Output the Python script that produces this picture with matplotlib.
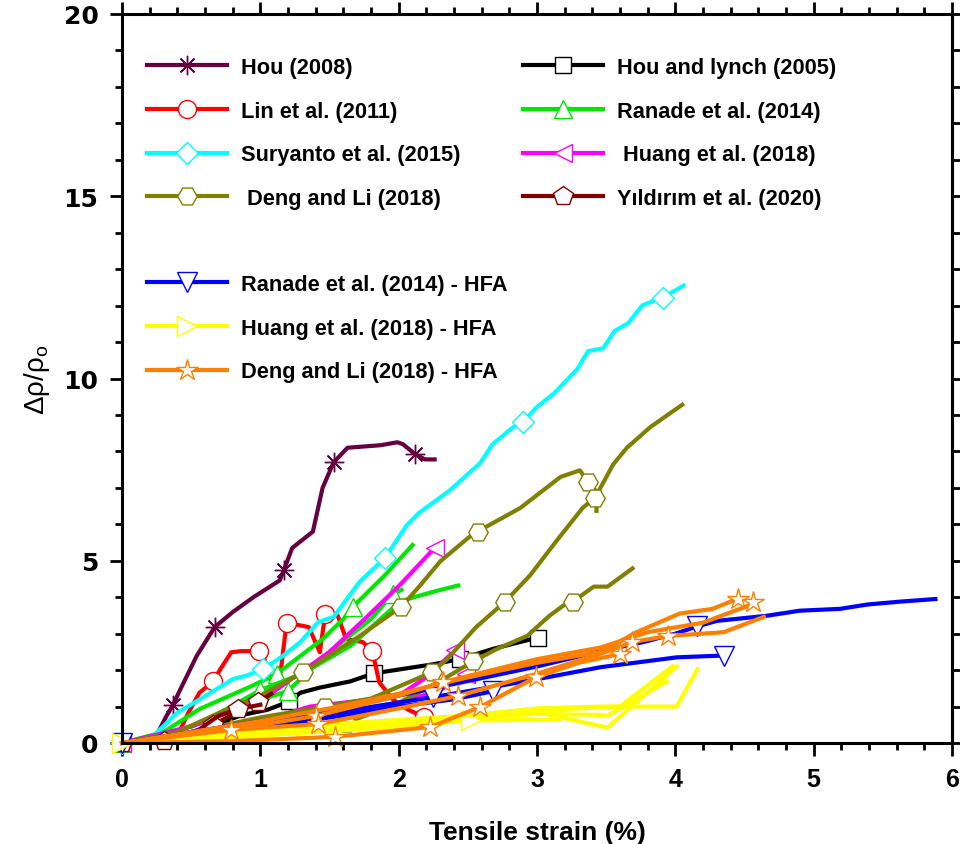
import matplotlib
matplotlib.use("Agg")
import matplotlib.pyplot as plt
from matplotlib.lines import Line2D
from matplotlib.ticker import MultipleLocator, NullFormatter

plt.rcParams['font.family'] = ['Liberation Sans', 'DejaVu Sans']
plt.rcParams['mathtext.fontset'] = 'custom'
plt.rcParams['mathtext.rm'] = 'Liberation Sans'
plt.rcParams['mathtext.it'] = 'Liberation Sans'

# ---------------- data: tensile strain (%) vs fractional resistivity change ----------------
# each specimen curve: (strain, dR/R0, indices of points carrying a marker)
hou_2008 = [
    ([0, 0.24, 0.32, 0.37, 0.41, 0.54, 0.67, 0.80, 0.95, 1.14, 1.17, 1.23, 1.38, 1.45, 1.53,
      1.63, 1.87, 1.99, 2.03, 2.12, 2.19, 2.26],
     [0, 0.14, 0.73, 1.05, 1.38, 2.39, 3.18, 3.59, 4.0, 4.46, 4.74, 5.35, 5.8, 7.0, 7.7,
      8.1, 8.17, 8.25, 8.2, 7.92, 7.78, 7.78],
     [0, 3, 6, 10, 14, 19]),
]
hou_lynch_2005 = [
    ([0, 0.3, 0.6, 0.87, 1.05, 1.21, 1.29, 1.43, 1.65, 1.82, 2.25, 2.44, 2.68, 2.96, 3.01],
     [0, 0.12, 0.4, 0.77, 0.91, 1.14, 1.38, 1.52, 1.69, 1.91, 2.16, 2.30, 2.58, 2.85, 2.88],
     [0, 5, 9, 11, 14]),
]
lin_2011 = [
    ([0, 0.25, 0.42, 0.48, 0.56, 0.66, 0.71, 0.79, 0.86, 0.99, 1.03, 1.09, 1.14, 1.19, 1.35,
      1.43, 1.47, 1.56, 1.62, 1.74, 1.81, 1.86, 1.96, 2.07, 2.18],
     [0, 0.1, 0.35, 0.83, 1.38, 1.69, 2.02, 2.49, 2.52, 2.52, 2.30, 1.55, 1.74, 3.30, 3.18,
      2.49, 3.55, 3.49, 2.85, 2.77, 2.52, 1.66, 1.19, 0.91, 0.72],
     [0, 5, 9, 13, 16, 20, 24]),
]
ranade_2014 = [
    ([0, 0.3, 0.56, 0.93, 1.12, 1.45, 1.6, 1.67, 1.9, 2.10],
     [0, 0.3, 0.93, 1.55, 1.9, 2.85, 3.4, 3.74, 4.6, 5.43],
     [0, 4, 7]),
    ([0, 0.3, 0.6, 1.0, 1.3, 1.65, 2.01, 2.13, 2.28, 2.43],
     [0, 0.2, 0.6, 1.45, 1.9, 2.66, 3.88, 4.02, 4.18, 4.32],
     [3]),
    ([0, 0.5, 0.9, 1.2, 1.5, 1.8, 1.96, 2.02],
     [0, 0.45, 1.05, 1.43, 2.5, 3.4, 4.1, 4.2],
     [3, 6]),
]
suryanto_2015 = [
    ([0, 0.22, 0.40, 0.56, 0.80, 0.90, 1.02, 1.16, 1.29, 1.42, 1.53, 1.72, 1.90, 2.06, 2.15,
      2.37, 2.59, 2.68, 2.83, 2.90, 3.0, 3.12, 3.29, 3.37, 3.48, 3.56, 3.66, 3.76, 3.84,
      3.91, 4.06],
     [0, 0.17, 0.83, 1.19, 1.75, 1.85, 2.02, 2.38, 2.77, 3.32, 3.46, 4.43, 5.07, 5.98, 6.32,
      6.93, 7.68, 8.2, 8.67, 8.81, 9.22, 9.58, 10.25, 10.75, 10.83, 11.3, 11.52, 12.0,
      12.13, 12.22, 12.55],
     [0, 6, 12, 19, 29]),
]
huang_2018 = [
    ([0, 0.5, 1.02, 1.5, 1.74, 2.0, 2.26],
     [0, 0.45, 1.2, 2.5, 3.35, 4.3, 5.35],
     [0, 6]),
    ([0, 0.6, 1.0, 1.36, 1.7, 2.0, 2.2, 2.41],
     [0, 0.3, 0.6, 1.0, 1.15, 1.3, 1.8, 2.55],
     [7]),
    ([0, 0.8, 1.5, 2.0, 2.3, 2.49],
     [0, 0.3, 0.75, 1.1, 1.45, 1.9],
     [5]),
]
deng_li_2018 = [
    ([0, 0.4, 0.75, 1.0, 1.31, 1.72, 2.02, 2.15, 2.30, 2.50, 2.57, 2.88, 3.17, 3.31, 3.37,
      3.43, 3.43],
     [0, 0.3, 0.91, 1.3, 1.94, 2.94, 3.74, 4.3, 4.98, 5.62, 5.8, 6.45, 7.3, 7.48, 7.15,
      6.9, 6.37],
     [0, 4, 6, 10, 14]),
    ([0, 0.5, 1.0, 1.47, 1.8, 2.24, 2.35, 2.56, 2.77, 2.95, 3.14, 3.33, 3.42, 3.55, 3.65,
      3.82, 4.05],
     [0, 0.3, 0.7, 1.0, 1.22, 1.94, 2.3, 3.18, 3.88, 4.6, 5.54, 6.45, 6.73, 7.64, 8.1,
      8.67, 9.28],
     [3, 5, 8, 12]),
    ([0, 0.6, 1.0, 1.3, 1.62, 2.0, 2.3, 2.54, 2.71, 2.93, 3.09, 3.19, 3.26, 3.41, 3.51, 3.69],
     [0, 0.15, 0.3, 0.42, 0.55, 1.1, 1.7, 2.24, 2.58, 2.94, 3.49, 3.77, 3.88, 4.29, 4.29, 4.79],
     [4, 7, 12]),
]
yildirim_2020 = [
    ([0, 0.3, 0.5, 0.66, 0.8, 0.98, 1.08],
     [0, 0.05, 0.25, 0.5, 0.78, 1.12, 1.35],
     [0, 1, 3, 5]),
    ([0, 0.35, 0.55, 0.7, 0.84, 1.0],
     [0, 0.05, 0.35, 0.75, 0.93, 1.05],
     [4]),
]
ranade_2014_hfa = [
    ([0, 0.5, 1.0, 1.65, 2.0, 2.5, 3.0, 3.46, 3.77, 4.0, 4.16, 4.30, 4.66, 4.90, 5.19, 5.39,
      5.63, 5.88],
     [0, 0.3, 0.6, 1.0, 1.3, 1.7, 2.1, 2.52, 2.77, 3.0, 3.2, 3.35, 3.49, 3.63, 3.68, 3.8,
      3.88, 3.95],
     [0, 10]),
    ([0, 0.5, 1.0, 1.65, 2.25, 2.7, 3.0, 3.46, 4.01, 4.35],
     [0, 0.25, 0.5, 0.9, 1.26, 1.55, 1.75, 2.08, 2.35, 2.40],
     [4, 9]),
    ([0, 0.8, 1.5, 2.0, 2.4, 2.68],
     [0, 0.3, 0.7, 1.0, 1.2, 1.42],
     [5]),
]
huang_2018_hfa = [
    ([0, 0.5, 1.0, 1.65, 2.5, 3.0, 3.5, 4.01, 4.16],
     [0, 0.15, 0.35, 0.55, 0.75, 0.95, 1.0, 1.0, 2.02],
     [0]),
    ([0, 0.5, 1.0, 1.65, 2.5, 3.0, 3.51, 4.01],
     [0, 0.1, 0.3, 0.5, 0.7, 0.85, 0.42, 2.1],
     []),
    ([0, 1.0, 2.0, 3.0, 3.46, 3.51, 3.94],
     [0, 0.25, 0.55, 0.8, 0.77, 0.75, 1.69],
     []),
    ([0, 1.0, 2.0, 2.52, 3.16],
     [0, 0.2, 0.45, 0.62, 0.64],
     [3]),
    ([0, 1.0, 2.0, 3.0, 3.6, 3.98],
     [0, 0.3, 0.6, 0.9, 1.0, 2.1],
     []),
]
deng_li_2018_hfa = [
    ([0, 0.5, 1.0, 1.5, 2.0, 2.5, 3.0, 3.46, 3.72, 4.03, 4.27, 4.45],
     [0, 0.3, 0.6, 0.95, 1.35, 1.8, 2.2, 2.5, 3.04, 3.55, 3.68, 3.96],
     [11]),
    ([0, 0.5, 1.0, 1.4, 2.0, 2.32, 3.0, 3.46, 3.80, 4.2, 4.53, 4.56],
     [0, 0.25, 0.5, 0.74, 1.3, 1.67, 2.3, 2.62, 3.04, 3.3, 3.77, 3.88],
     [3, 5, 11]),
    ([0, 0.79, 1.42, 2.0, 2.43, 3.0, 3.46, 3.69, 3.95, 4.16, 4.35, 4.64],
     [0, 0.36, 0.52, 0.95, 1.29, 1.9, 2.45, 2.77, 2.94, 2.99, 3.04, 3.46],
     [1, 2, 4, 7, 8]),
    ([0, 0.79, 1.54, 2.23, 2.59, 2.99, 3.3, 3.60],
     [0, 0.05, 0.17, 0.44, 0.99, 1.80, 2.2, 2.44],
     [2, 3, 4, 5, 7]),
]

labels = ["Hou (2008)", "Hou and lynch (2005)", "Lin et al. (2011)", "Ranade et al. (2014)",
          "Suryanto et al. (2015)", " Huang et al. (2018)", " Deng and Li (2018)",
          "Yıldırım et al. (2020)", "Ranade et al. (2014) - HFA", "Huang et al. (2018) - HFA",
          "Deng and Li (2018) - HFA"]
curves = [hou_2008, hou_lynch_2005, lin_2011, ranade_2014, suryanto_2015, huang_2018,
          deng_li_2018, yildirim_2020, ranade_2014_hfa, huang_2018_hfa, deng_li_2018_hfa]

# ---------------- styles ----------------
colors = ['#660040', '#000000', '#FF0000', '#00E600', '#00FFFF', '#FF00FF', '#808000',
          '#800000', '#0000FF', '#FFFF00', '#FF8000']
markers = [(8, 2, 0), 's', 'o', '^', 'D', '<', 'H', 'p', 'v', '>', '*']
msizes = [14, 11, 13, 13, 11, 13, 14, 15, 14, 14, 16]
LW = 3.0

fig = plt.figure(figsize=(9.6, 8.45), dpi=100)
ax = fig.add_axes([122 / 960, 101 / 845, 830 / 960, 729 / 845])

handles = []
for lab, col, mk, ms, group in zip(labels, colors, markers, msizes, curves):
    for xs, ys, mks in group:
        ax.plot(xs, ys, color=col, lw=LW, marker=mk, ms=ms, markevery=mks,
                mfc='white', mec=col, mew=1.0, clip_on=False, solid_joinstyle='round')
    handles.append(Line2D([], [], color=col, lw=LW, marker=mk, ms=ms, mfc='white',
                          mec=col, mew=1.0))

ax.set_xlim(0, 6)
ax.set_ylim(0, 20)

for s in ax.spines.values():
    s.set_linewidth(2.2)

ax.xaxis.set_major_locator(MultipleLocator(1))
ax.xaxis.set_minor_locator(MultipleLocator(0.2))
ax.yaxis.set_major_locator(MultipleLocator(5))
ax.yaxis.set_minor_locator(MultipleLocator(1))
ax.tick_params(axis='x', which='both', direction='out', top=True, bottom=True, width=2.0)
ax.tick_params(axis='y', which='both', direction='out', left=True, right=False, width=2.0)
ax.tick_params(which='major', length=9)
ax.tick_params(which='minor', length=5)
ax.tick_params(axis='x', which='major', labelsize=18, pad=8)
ax.tick_params(axis='y', which='major', labelsize=18, pad=8)
for t in ax.get_xticklabels():
    t.set_fontweight('bold')
for t in ax.get_yticklabels():
    t.set_fontweight('bold')
    t.set_family(['DejaVu Sans'])

# right-hand axis: plain ticks at every unit, no labels
sec = ax.secondary_yaxis('right')
sec.yaxis.set_major_locator(MultipleLocator(1))
sec.yaxis.set_major_formatter(NullFormatter())
sec.tick_params(direction='out', length=6, width=2.0)
sec.spines['right'].set_linewidth(2.2)

ax.set_xlabel("Tensile strain (%)", fontsize=19, fontweight='bold', labelpad=21)
ax.set_ylabel(r"$\mathrm{\Delta\rho/\rho_o}$", fontsize=20, labelpad=8)

leg_kw = dict(loc='upper left', frameon=False, borderpad=0, borderaxespad=0,
              handlelength=3.65, handletextpad=0.65, labelspacing=1.04,
              prop={'weight': 'bold', 'size': 15.7}, bbox_transform=fig.transFigure)
order1 = [0, 2, 4, 6]
order2 = [1, 3, 5, 7]
order3 = [8, 9, 10]
l1 = ax.legend([handles[i] for i in order1], [labels[i] for i in order1],
               bbox_to_anchor=(147 / 960, 1 - 58 / 845), **leg_kw)
ax.add_artist(l1)
l2 = ax.legend([handles[i] for i in order2], [labels[i] for i in order2],
               bbox_to_anchor=(523 / 960, 1 - 58 / 845), **leg_kw)
ax.add_artist(l2)
ax.legend([handles[i] for i in order3], [labels[i] for i in order3],
          bbox_to_anchor=(147 / 960, 1 - 275 / 845), **leg_kw)

fig.savefig("out.png", dpi=100)
